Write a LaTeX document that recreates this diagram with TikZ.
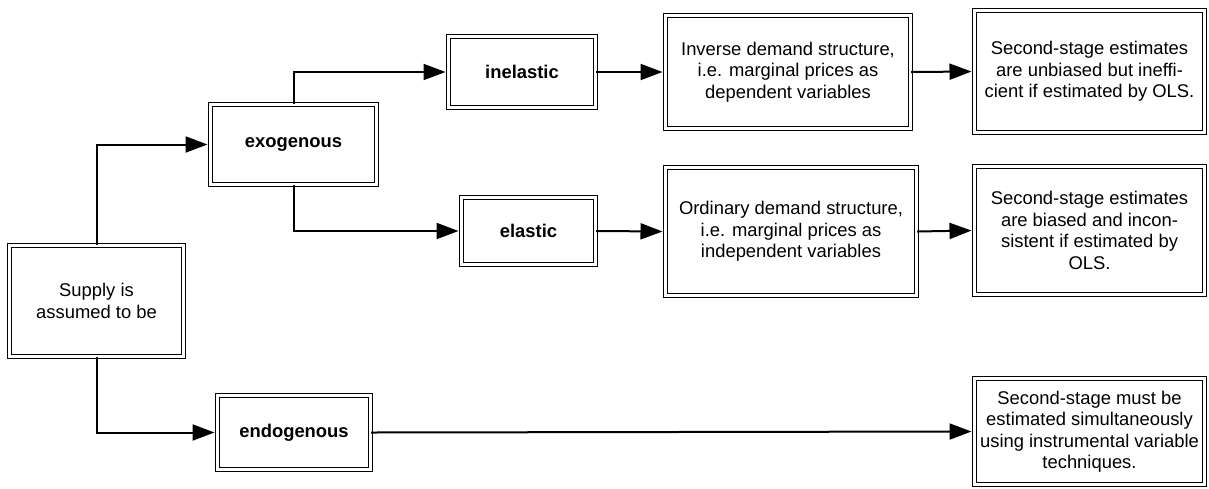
\documentclass[tikz,border=0pt]{standalone}
\usepackage{fontspec}
\setmainfont{Liberation Sans}
\usetikzlibrary{arrows.meta}
\tikzset{
  box/.style={draw=black, double, double distance=2.6pt, line width=1pt,
    fill=white, align=center, inner sep=0pt,
    font=\fontsize{18.4}{21.5}\selectfont},
  bbox/.style={box, font=\fontsize{18.4}{21.5}\selectfont\bfseries},
  conn/.style={line width=2pt, -{Triangle[length=22pt,width=16pt]}, shorten >=2.3pt}
}
\newcommand{\bx}[7]{% name, cx, cy, W, H, style, text
  \node[#6, minimum width={#4pt-4.6pt}, minimum height={#5pt-4.6pt}] (#1) at (#2,#3) {#7};}
\begin{document}
\begin{tikzpicture}[x=1pt,y=-1pt]
\useasboundingbox (0,0) rectangle (1209,488);
\bx{supply}{96.5}{301}{179}{116}{box}{Supply is\\assumed to be}
\bx{exo}{293.5}{144.5}{171}{85}{bbox}{exogenous}
\bx{inel}{522}{72}{152}{76}{bbox}{inelastic}
\bx{elas}{528.5}{231}{139}{72}{bbox}{elastic}
\bx{endo}{294}{432.5}{158}{79}{bbox}{endogenous}
\bx{inv}{788}{72}{250}{118}{box}{Inverse demand structure,\\i.e. marginal prices as\\dependent variables}
\bx{ord}{791}{231.5}{256}{133}{box}{Ordinary demand structure,\\i.e. marginal prices as\\independent variables}
\bx{sa}{1089.5}{71.5}{235}{127}{box}{Second-stage estimates\\are unbiased but ineffi-\\cient if estimated by OLS.}
\bx{sb}{1089.5}{230.5}{235}{133}{box}{Second-stage estimates\\are biased and incon-\\sistent if estimated by\\OLS.}
\bx{sc}{1089.5}{431.5}{235}{111}{box}{Second-stage must be\\estimated simultaneously\\using instrumental variable\\techniques.}
\draw[conn] (supply.north) |- (exo.west);
\draw[conn] (supply.south) |- (endo.west);
\draw[conn] (exo.north) |- (inel.west);
\draw[conn] (exo.south) |- (elas.west);
\draw[conn] (inel.east) -- (inv.west);
\draw[conn] (elas.east) -- (ord.west);
\draw[conn] (inv.east) -- (sa.west);
\draw[conn] (ord.east) -- (sb.west);
\draw[conn] (endo.east) -- (sc.west);
\end{tikzpicture}
\end{document}
